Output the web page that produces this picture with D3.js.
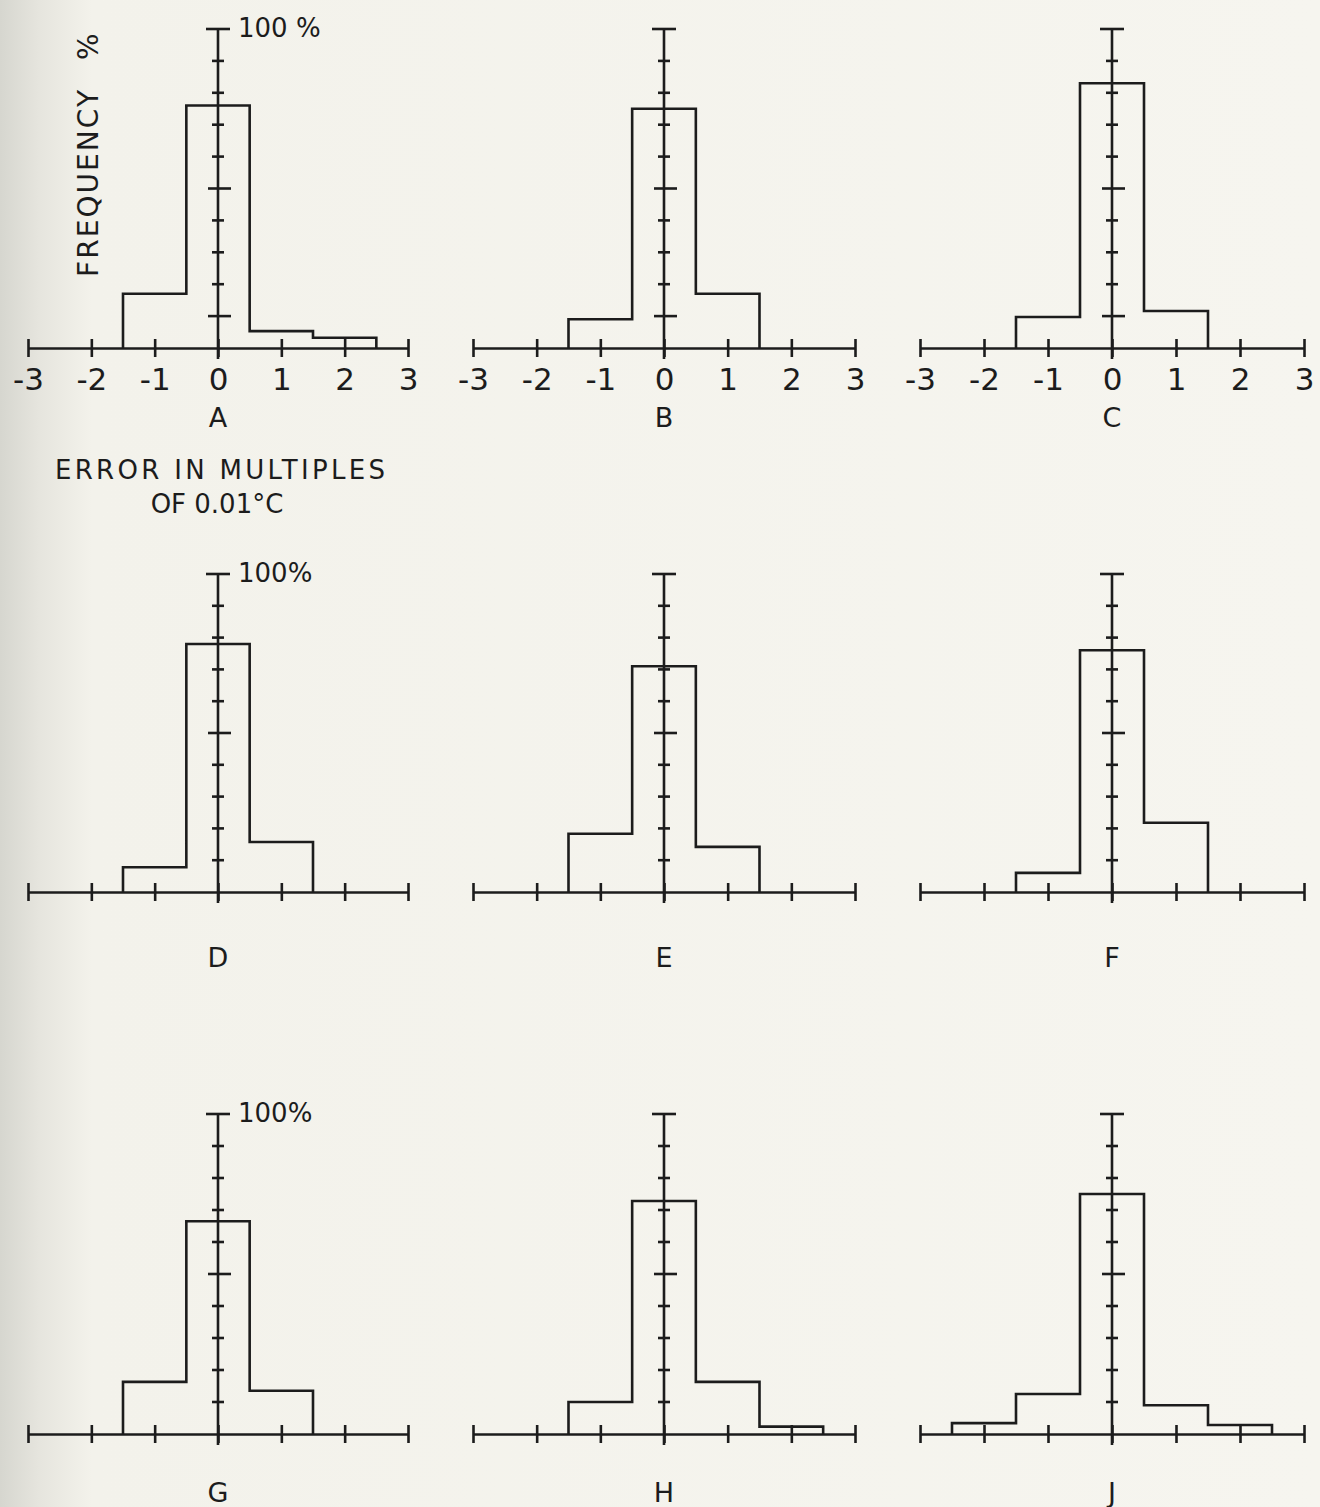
<!DOCTYPE html>
<html>
<head>
<meta charset="utf-8">
<script src="https://cdn.jsdelivr.net/npm/d3@7"></script>
<style>
  html, body { margin: 0; padding: 0; background: #f4f3ec; }
  svg { display: block; }
  text { font-family: "DejaVu Sans", sans-serif; fill: #1c1c1c; }
</style>
</head>
<body>
<div id="chart"></div>
<script>
// Frequency histograms of error, nine panels A..J.

const xTicks = [-3, -2, -1, 0, 1, 2, 3];
const xTickLabels = ["-3", "-2", "-1", "0", "1", "2", "3"];
const yTicks = [10, 20, 30, 40, 50, 60, 70, 80, 90];
const binCenters = [-2, -1, 0, 1, 2];

// frequency % per bin (null = no bar)
const freqA = [null, 17, 76, 5.3, 3.2];
const freqB = [null, 9, 75, 17, null];
const freqC = [null, 9.7, 83, 11.6, null];
const freqD = [null, 7.8, 78, 15.7, null];
const freqE = [null, 18.3, 71, 14.2, null];
const freqF = [null, 6, 76, 21.8, null];
const freqG = [null, 16.3, 66.5, 13.5, null];
const freqH = [null, 10, 72.8, 16.3, 2.3];
const freqJ = [3.4, 12.5, 75, 9, 2.8];

const panelLetters = ["A", "B", "C", "D", "E", "F", "G", "H", "J"];
const panelFreqs = [freqA, freqB, freqC, freqD, freqE, freqF, freqG, freqH, freqJ];

const W = 1320, H = 1507;
const INK = "#1c1c1c";
const STROKE = 2.6;
const COL_LEFT = [28, 473, 920];
const COL_RIGHT = [408, 855, 1304];
const ROW_TOP = [29, 574, 1114];
const ROW_BASE = [348, 892, 1434];
const LETTER_Y = [427, 967, 1502];

const svg = d3.select("#chart").append("svg")
    .attr("width", W)
    .attr("height", H);

// paper, greyish toward the left edge
const grad = svg.append("defs").append("linearGradient")
    .attr("id", "paper")
    .attr("x1", 0).attr("x2", 1).attr("y1", 0).attr("y2", 0);
grad.append("stop").attr("offset", "0%").attr("stop-color", "#d6d6cf");
grad.append("stop").attr("offset", "3%").attr("stop-color", "#e6e5de");
grad.append("stop").attr("offset", "7%").attr("stop-color", "#f3f2eb");
grad.append("stop").attr("offset", "100%").attr("stop-color", "#f6f5ef");
svg.append("rect").attr("width", W).attr("height", H).attr("fill", "url(#paper)");

const line = d3.line();

panelLetters.forEach((letter, i) => {
    const row = Math.floor(i / 3), col = i % 3;
    const freqs = panelFreqs[i];

    const x = d3.scaleLinear().domain([-3, 3]).range([COL_LEFT[col], COL_RIGHT[col]]);
    const y = d3.scaleLinear().domain([0, 100]).range([ROW_BASE[row], ROW_TOP[row]]);
    const g = svg.append("g");
    const x0 = x(0);

    // x axis
    const xAxis = d3.axisBottom(x)
        .tickValues(xTicks)
        .tickSizeOuter(0)
        .tickSizeInner(9)
        .tickPadding(11)
        .tickFormat((d, k) => row === 0 ? xTickLabels[k] : "");
    const ax = g.append("g")
        .attr("transform", `translate(0,${y(0)})`)
        .call(xAxis);
    ax.select(".domain").attr("stroke", INK).attr("stroke-width", STROKE);
    ax.selectAll(".tick line")
        .attr("y1", -9).attr("y2", 9)
        .attr("stroke", INK).attr("stroke-width", STROKE);
    ax.selectAll(".tick text")
        .attr("font-size", 31)
        .attr("font-family", "DejaVu Sans, sans-serif")
        .attr("fill", INK);

    // y axis (vertical at 0)
    g.append("line")
        .attr("x1", x0).attr("x2", x0)
        .attr("y1", y(100)).attr("y2", y(0) + 11)
        .attr("stroke", INK).attr("stroke-width", STROKE);
    g.append("line")
        .attr("x1", x0 - 12).attr("x2", x0 + 12)
        .attr("y1", y(100)).attr("y2", y(100))
        .attr("stroke", INK).attr("stroke-width", STROKE);
    g.selectAll(".ytick")
        .data(yTicks)
        .join("line")
        .attr("class", "ytick")
        .attr("x1", d => (d === 50 || (row === 0 && d === 10)) ? x0 - 10 : x0 - 6)
        .attr("x2", d => (d === 50 || (row === 0 && d === 10)) ? x0 + 13 : x0 + 6)
        .attr("y1", d => y(d)).attr("y2", d => y(d))
        .attr("stroke", INK).attr("stroke-width", STROKE);

    // histogram outline
    const bins = binCenters
        .map((c, k) => ({ lo: c - 0.5, hi: c + 0.5, v: freqs[k] }))
        .filter(b => b.v != null);
    const pts = [[bins[0].lo, 0]];
    bins.forEach(b => {
        pts.push([b.lo, b.v]);
        pts.push([b.hi, b.v]);
    });
    pts.push([bins[bins.length - 1].hi, 0]);
    g.append("path")
        .attr("d", line.x(d => x(d[0])).y(d => y(d[1]))(pts))
        .attr("fill", "none")
        .attr("stroke", INK)
        .attr("stroke-width", STROKE)
        .attr("stroke-linejoin", "miter");

    // 100 % label on the left column
    if (col === 0) {
        g.append("text")
            .attr("x", x0 + 20)
            .attr("y", y(100) + 8)
            .attr("font-size", 26)
            .text(row === 0 ? "100 %" : "100%");
    }

    // panel letter
    g.append("text")
        .attr("x", x0)
        .attr("y", LETTER_Y[row])
        .attr("text-anchor", "middle")
        .attr("font-size", 27)
        .text(letter);
});

// y title
svg.append("text")
    .attr("transform", "translate(98,277) rotate(-90)")
    .attr("font-size", 28)
    .attr("textLength", 187)
    .attr("lengthAdjust", "spacing")
    .text("FREQUENCY");
svg.append("text")
    .attr("transform", "translate(98,60) rotate(-90)")
    .attr("font-size", 28)
    .text("%");

// x title
svg.append("text")
    .attr("x", 55).attr("y", 479)
    .attr("font-size", 26)
    .attr("textLength", 330)
    .attr("lengthAdjust", "spacing")
    .text("ERROR IN MULTIPLES");
svg.append("text")
    .attr("x", 217).attr("y", 513)
    .attr("text-anchor", "middle")
    .attr("font-size", 26)
    .text("OF 0.01°C");
</script>
</body>
</html>
